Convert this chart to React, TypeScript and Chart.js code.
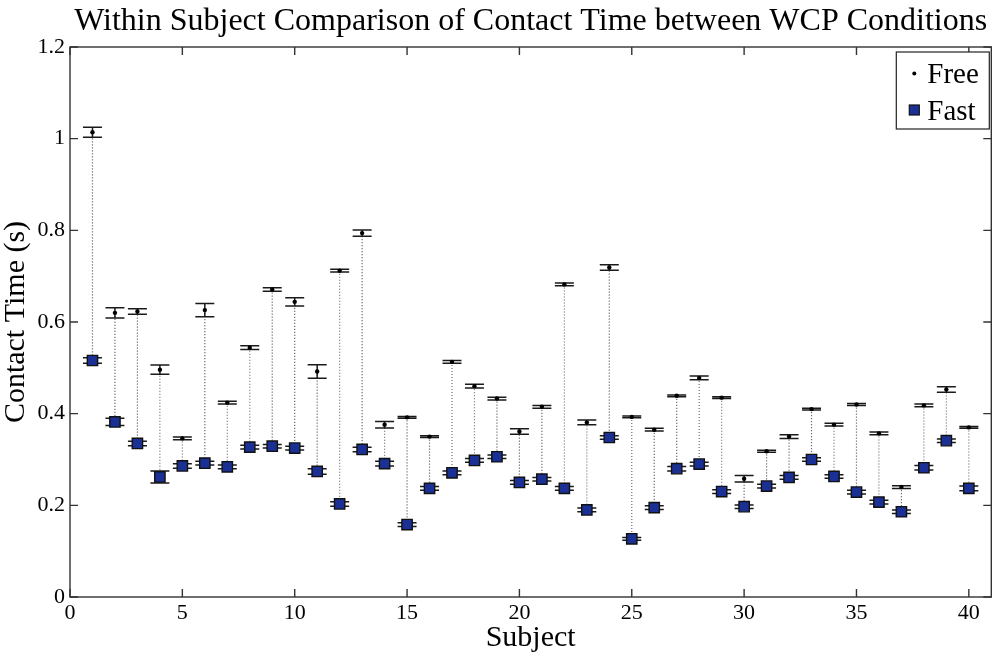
import React, { useEffect, useRef } from "react";
import { Chart, registerables } from "chart.js";

Chart.register(...registerables);

const subjects = [1, 2, 3, 4, 5, 6, 7, 8, 9, 10, 11, 12, 13, 14, 15, 16, 17, 18, 19, 20, 21, 22, 23, 24, 25, 26, 27, 28, 29, 30, 31, 32, 33, 34, 35, 36, 37, 38, 39, 40];

const freeMean = [1.014, 0.62, 0.623, 0.496, 0.346, 0.626, 0.424, 0.544, 0.671, 0.644, 0.492, 0.712, 0.794, 0.376, 0.392, 0.35, 0.513, 0.46, 0.433, 0.361, 0.415, 0.682, 0.381, 0.719, 0.393, 0.365, 0.439, 0.478, 0.435, 0.258, 0.318, 0.35, 0.41, 0.376, 0.42, 0.357, 0.24, 0.418, 0.453, 0.37];
const freeErr = [0.011, 0.011, 0.006, 0.01, 0.003, 0.0145, 0.003, 0.004, 0.004, 0.009, 0.0145, 0.003, 0.007, 0.007, 0.002, 0.002, 0.003, 0.004, 0.003, 0.006, 0.003, 0.003, 0.005, 0.006, 0.002, 0.003, 0.002, 0.004, 0.002, 0.007, 0.002, 0.004, 0.002, 0.003, 0.002, 0.003, 0.003, 0.003, 0.006, 0.002];

const fastMean = [0.516, 0.382, 0.335, 0.262, 0.286, 0.292, 0.284, 0.327, 0.329, 0.325, 0.274, 0.203, 0.322, 0.291, 0.158, 0.237, 0.271, 0.298, 0.306, 0.25, 0.257, 0.237, 0.19, 0.348, 0.127, 0.195, 0.28, 0.29, 0.23, 0.197, 0.242, 0.261, 0.3, 0.263, 0.229, 0.207, 0.186, 0.282, 0.341, 0.237];
const fastErr = [0.006, 0.008, 0.005, 0.013, 0.005, 0.004, 0.004, 0.004, 0.004, 0.004, 0.006, 0.005, 0.005, 0.005, 0.004, 0.004, 0.004, 0.004, 0.004, 0.004, 0.004, 0.004, 0.004, 0.004, 0.003, 0.004, 0.005, 0.004, 0.004, 0.004, 0.004, 0.004, 0.004, 0.004, 0.004, 0.004, 0.004, 0.005, 0.004, 0.005];

const xTickValues = [0, 5, 10, 15, 20, 25, 30, 35, 40];
const seriesNames = ["Free", "Fast"];

const FONT = "'Liberation Serif', 'Times New Roman', serif";
const FAST_COLOR = "#1a3095";

const errorPlugin = {
  id: "errorBars",
  beforeDatasetsDraw(chart: any) {
    const { ctx, scales } = chart;
    const xs = scales.x;
    const ys = scales.y;
    ctx.save();
    // dotted connectors
    ctx.strokeStyle = "#6e6e6e";
    ctx.lineWidth = 1.2;
    ctx.setLineDash([1.2, 1.8]);
    subjects.forEach((s, i) => {
      const px = xs.getPixelForValue(s);
      ctx.beginPath();
      ctx.moveTo(px, ys.getPixelForValue(freeMean[i]));
      ctx.lineTo(px, ys.getPixelForValue(fastMean[i]));
      ctx.stroke();
    });
    ctx.setLineDash([]);
    // error bars
    ctx.strokeStyle = "#1a1a1a";
    ctx.lineWidth = 1.5;
    const cap = 9.5;
    const drawBar = (px: number, m: number, e: number) => {
      const t = ys.getPixelForValue(m + e);
      const b = ys.getPixelForValue(m - e);
      ctx.beginPath();
      ctx.moveTo(px, t);
      ctx.lineTo(px, b);
      ctx.moveTo(px - cap, t);
      ctx.lineTo(px + cap, t);
      ctx.moveTo(px - cap, b);
      ctx.lineTo(px + cap, b);
      ctx.stroke();
    };
    subjects.forEach((s, i) => {
      const px = xs.getPixelForValue(s);
      drawBar(px, freeMean[i], freeErr[i]);
      drawBar(px, fastMean[i], fastErr[i]);
    });
    ctx.restore();
  },
  afterDraw(chart: any) {
    const { ctx, chartArea, scales } = chart;
    const { left, right, top, bottom } = chartArea;
    ctx.save();
    ctx.strokeStyle = "#333";
    ctx.lineWidth = 1.4;
    ctx.strokeRect(left, top, right - left, bottom - top);
    const tl = 8;
    ctx.beginPath();
    scales.x.ticks.forEach((t: any) => {
      const px = scales.x.getPixelForValue(t.value);
      ctx.moveTo(px, bottom);
      ctx.lineTo(px, bottom - tl);
      ctx.moveTo(px, top);
      ctx.lineTo(px, top + tl);
    });
    scales.y.ticks.forEach((t: any) => {
      const py = scales.y.getPixelForValue(t.value);
      ctx.moveTo(left, py);
      ctx.lineTo(left + tl, py);
      ctx.moveTo(right, py);
      ctx.lineTo(right - tl, py);
    });
    ctx.stroke();

    // legend box
    const bx = right - 95;
    const by = top + 5;
    const bw = 93;
    const bh = 77;
    ctx.fillStyle = "#fff";
    ctx.fillRect(bx, by, bw, bh);
    ctx.strokeStyle = "#222";
    ctx.lineWidth = 1.2;
    ctx.strokeRect(bx, by, bw, bh);
    // Free entry
    ctx.fillStyle = "#000";
    ctx.beginPath();
    ctx.arc(bx + 18, by + 21.5, 2, 0, Math.PI * 2);
    ctx.fill();
    // Fast entry
    ctx.fillStyle = FAST_COLOR;
    ctx.fillRect(bx + 13, by + 53, 10, 10);
    ctx.strokeStyle = "#111";
    ctx.lineWidth = 1.2;
    ctx.strokeRect(bx + 13, by + 53, 10, 10);
    ctx.fillStyle = "#000";
    ctx.font = `29px ${FONT}`;
    ctx.textBaseline = "alphabetic";
    ctx.textAlign = "left";
    ctx.fillText(seriesNames[0], bx + 31, by + 31);
    ctx.fillText(seriesNames[1], bx + 31, by + 68);
    ctx.restore();
  },
};

export default function App() {
  const canvasRef = useRef<HTMLCanvasElement | null>(null);

  useEffect(() => {
    document.body.style.margin = "0";
    const canvas = canvasRef.current;
    if (!canvas) return;
    const chart = new Chart(canvas, {
      type: "scatter",
      data: {
        datasets: [
          {
            label: seriesNames[0],
            data: subjects.map((s, i) => ({ x: s, y: freeMean[i] })),
            pointStyle: "circle",
            pointRadius: 2.2,
            backgroundColor: "#000",
            borderColor: "#000",
            borderWidth: 0,
            showLine: false,
          },
          {
            label: seriesNames[1],
            data: subjects.map((s, i) => ({ x: s, y: fastMean[i] })),
            pointStyle: "rect",
            pointRadius: 7.3,
            backgroundColor: FAST_COLOR,
            borderColor: "#111",
            borderWidth: 1.4,
            showLine: false,
          },
        ],
      },
      options: {
        responsive: false,
        animation: false,
        devicePixelRatio: 1,
        layout: { padding: { right: 7, top: 0, left: 0, bottom: 0 } },
        plugins: {
          legend: { display: false },
          tooltip: { enabled: false },
          title: {
            display: true,
            text: "Within Subject Comparison of Contact Time between WCP Conditions",
            color: "#000",
            fullSize: false,
            font: { family: FONT, size: 32, weight: "normal", lineHeight: 1.2 },
            padding: { top: 2, bottom: 6.6 },
          },
        },
        scales: {
          x: {
            type: "linear",
            min: 0,
            max: 41,
            afterBuildTicks: (scale: any) => {
              scale.ticks = xTickValues.map((v) => ({ value: v }));
            },
            afterFit: (scale: any) => {
              scale.height = 65;
            },
            ticks: {
              color: "#000",
              padding: 5,
              font: { family: FONT, size: 22, lineHeight: 1 },
              maxRotation: 0,
              autoSkip: false,
            },
            grid: { display: false, drawTicks: false },
            border: { display: false },
            title: {
              display: true,
              text: "Subject",
              color: "#000",
              font: { family: FONT, size: 30, lineHeight: 1 },
              padding: { top: 0, bottom: 9 },
            },
          },
          y: {
            type: "linear",
            min: 0,
            max: 1.2,
            afterFit: (scale: any) => {
              scale.width = 70;
            },
            ticks: {
              stepSize: 0.2,
              color: "#000",
              padding: 5,
              font: { family: FONT, size: 22, lineHeight: 1 },
              callback: (v: any) => String(Math.round(Number(v) * 10) / 10),
            },
            grid: { display: false, drawTicks: false },
            border: { display: false },
            title: {
              display: true,
              text: "Contact Time (s)",
              color: "#000",
              font: { family: FONT, size: 30, lineHeight: 1 },
              padding: { top: 1, bottom: 0 },
            },
          },
        },
      },
      plugins: [errorPlugin],
    } as any);
    return () => {
      chart.destroy();
    };
  }, []);

  return (
    <div style={{ width: 1000, height: 662, background: "#fff" }}>
      <canvas ref={canvasRef} width={1000} height={662} style={{ display: "block" }} />
    </div>
  );
}
